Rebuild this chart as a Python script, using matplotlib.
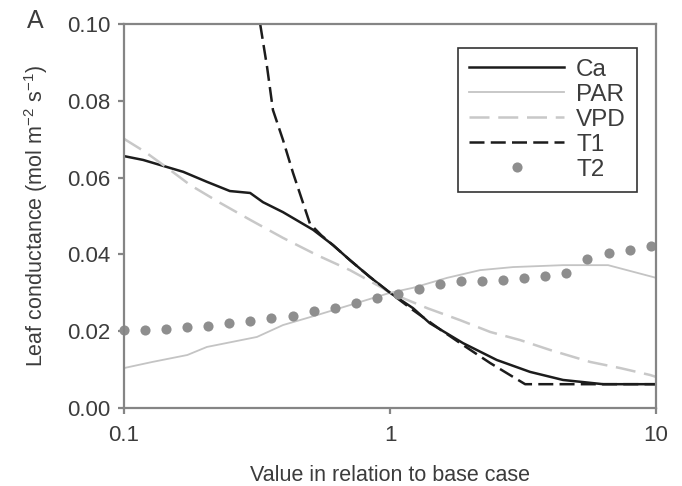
"""
Leaf conductance sensitivity to driver variables (panel A).
"""
import matplotlib
matplotlib.use('Agg')
import matplotlib.pyplot as plt

plt.rcParams['font.family'] = ['Liberation Sans', 'DejaVu Sans']
plt.rcParams['mathtext.default'] = 'regular'

###############################################################################
# Values.

ca_x = [0.1, 0.118, 0.167, 0.205, 0.25, 0.298, 0.333, 0.396, 0.514, 0.611,
        0.707, 0.841, 1.0, 1.22, 1.41, 1.88, 2.52, 3.36, 4.47, 6.32, 10.0]
ca_y = [0.0656, 0.0646, 0.0615, 0.0589, 0.0565, 0.0560, 0.0536, 0.0510,
        0.0464, 0.0424, 0.0385, 0.0341, 0.0300, 0.0260, 0.0221, 0.0169,
        0.0125, 0.0094, 0.0073, 0.0062, 0.0062]

par_x = [0.1, 0.128, 0.173, 0.205, 0.316, 0.396, 0.532, 0.707, 1.0, 1.22,
         1.64, 2.18, 2.90, 4.47, 6.60, 10.0]
par_y = [0.0104, 0.0120, 0.0138, 0.0159, 0.0185, 0.0216, 0.0242, 0.0268,
         0.0300, 0.0313, 0.0339, 0.0359, 0.0367, 0.0372, 0.0372, 0.0339]

vpd_x = [0.1, 0.120, 0.149, 0.177, 0.230, 0.298, 0.396, 0.532, 0.707, 0.94,
         1.0, 1.38, 1.83, 2.38, 3.08, 4.00, 5.65, 7.33, 9.49, 10.0]
vpd_y = [0.0701, 0.0667, 0.0620, 0.0581, 0.0534, 0.0490, 0.0443, 0.0398,
         0.0359, 0.0312, 0.0300, 0.0260, 0.0229, 0.0198, 0.0177, 0.0151,
         0.0120, 0.0104, 0.0086, 0.0081]

t1_x = [0.325, 0.345, 0.363, 0.396, 0.432, 0.5, 0.551, 0.611, 0.707, 0.841,
        1.0, 1.22, 1.54, 1.88, 2.38, 2.90, 3.22, 10.0]
t1_y = [0.100, 0.0888, 0.0776, 0.0698, 0.0612, 0.0480, 0.0450, 0.0424,
        0.0385, 0.0341, 0.0300, 0.0255, 0.0205, 0.0164, 0.0117, 0.0081,
        0.0062, 0.0062]

t2_x = [0.1, 0.12, 0.144, 0.1728, 0.2074, 0.2488, 0.2986, 0.3583, 0.43,
        0.516, 0.6192, 0.743, 0.8916, 1.07, 1.284, 1.541, 1.849, 2.219,
        2.662, 3.195, 3.834, 4.601, 5.521, 6.625, 7.95, 9.54]
t2_y = [0.0203, 0.0203, 0.0206, 0.0210, 0.0214, 0.0221, 0.0227, 0.0234,
        0.0240, 0.0253, 0.0260, 0.0273, 0.0286, 0.0297, 0.0310, 0.0323,
        0.0332, 0.0332, 0.0333, 0.0339, 0.0345, 0.0352, 0.0387, 0.0403,
        0.0411, 0.0422]

xticks = [0.1, 1, 10]
xtick_labels = ['0.1', '1', '10']
yticks = [0.00, 0.02, 0.04, 0.06, 0.08, 0.10]

###############################################################################
# Plot.

axis_grey = '#858585'
text_grey = '#3c3c3c'

fig = plt.figure(figsize=(6.82, 4.86), dpi=100)
ax = fig.add_axes([0.1818, 0.1605, 0.7802, 0.7901])

ax.plot(ca_x, ca_y, color='#1c1c1c', lw=1.8, label='Ca')
ax.plot(par_x, par_y, color='#c4c4c4', lw=1.3, label='PAR')
ax.plot(vpd_x, vpd_y, color='#c8c8c8', lw=1.8, dashes=(8, 3.5), label='VPD')
ax.plot(t1_x, t1_y, color='#1c1c1c', lw=1.8, dashes=(6, 2.5), label='T1')
ax.plot(t2_x, t2_y, ls='none', marker='o', ms=7.3, color='#8e8e8e',
        markeredgewidth=0, label='T2', clip_on=False)

ax.set_xscale('log')
ax.set_xlim(0.1, 10)
ax.set_ylim(0, 0.10)
ax.set_xticks(xticks, xtick_labels)
ax.xaxis.set_minor_locator(matplotlib.ticker.NullLocator())
ax.set_yticks(yticks, [f'{v:.2f}' for v in yticks])

for side in ax.spines.values():
    side.set_color(axis_grey)
    side.set_linewidth(1.6)
ax.tick_params(axis='both', direction='out', length=4, width=1.6,
               color=axis_grey, labelsize=16, labelcolor=text_grey)
ax.tick_params(axis='x', pad=8)
ax.tick_params(axis='y', pad=6)

ax.set_xlabel('Value in relation to base case', fontsize=15.5,
              color=text_grey, labelpad=14)
ax.set_ylabel(r'Leaf conductance (mol m$^{-2}$ s$^{-1}$)', fontsize=15.5,
              color=text_grey, labelpad=12)

leg = ax.legend(loc='upper right', bbox_to_anchor=(0.964, 0.9375),
                fontsize=17.5, frameon=True, fancybox=False, framealpha=1,
                handlelength=3.9, handletextpad=0.5, labelspacing=0.12,
                borderpad=0.45, numpoints=1, borderaxespad=0)
leg.get_frame().set_edgecolor('#333333')
leg.get_frame().set_linewidth(1.2)
for t in leg.get_texts():
    t.set_color(text_grey)

fig.text(27 / 682, 1 - 28 / 486, 'A', fontsize=18, color=text_grey,
         va='baseline')

fig.savefig('out.png', dpi=100)
